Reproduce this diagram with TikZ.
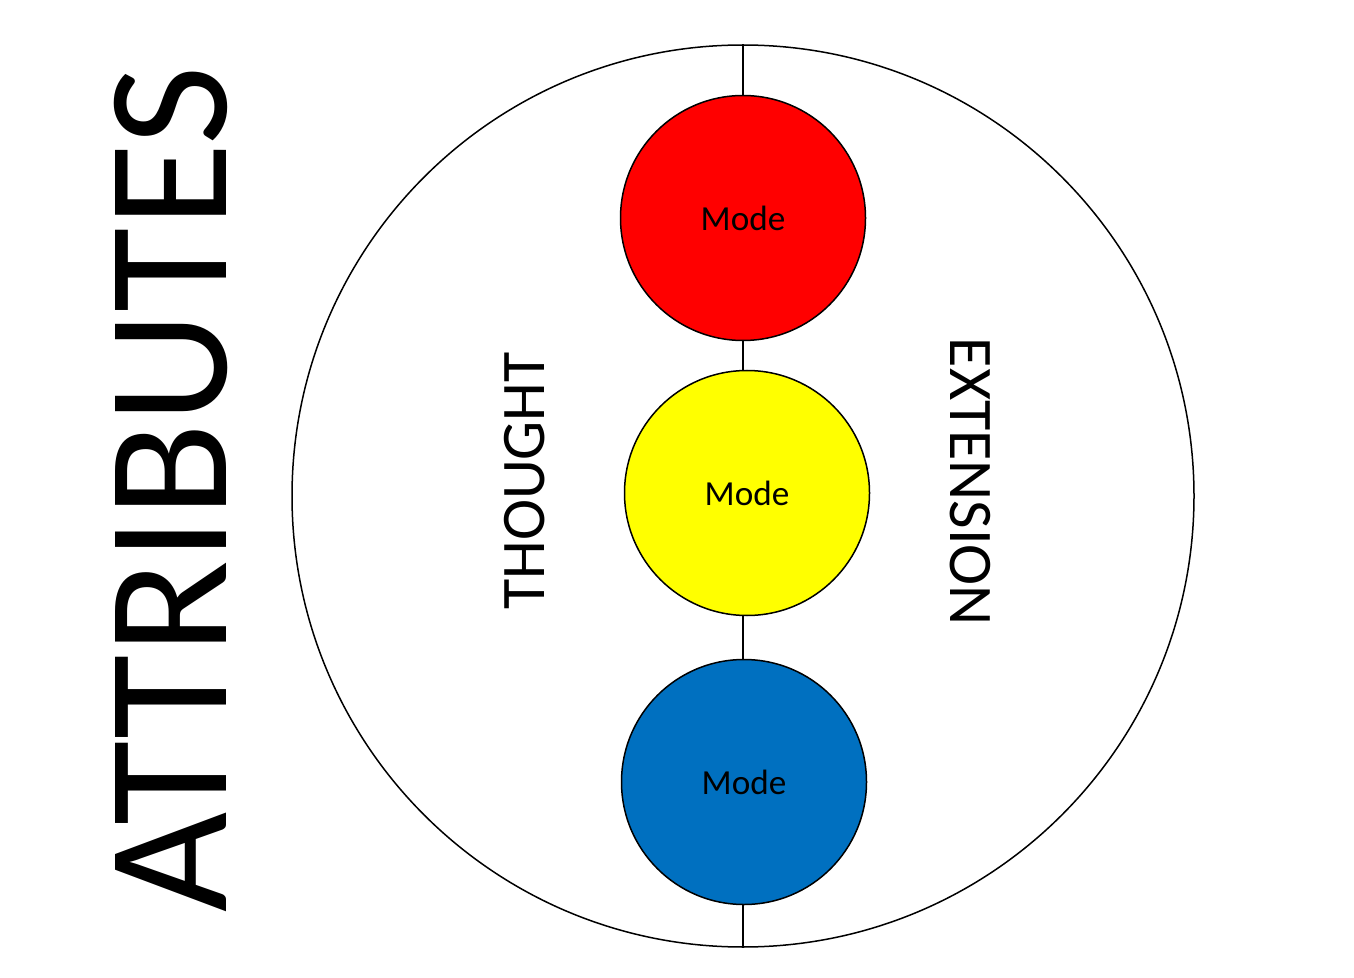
\documentclass[tikz,border=0pt]{standalone}
\usepackage{fontspec}
\setmainfont{Carlito}
\definecolor{modered}{HTML}{FF0000}
\definecolor{modeyellow}{HTML}{FFFF00}
\definecolor{modeblue}{HTML}{0070C0}
\begin{document}
\begin{tikzpicture}[x=0.5pt,y=-0.5pt,
  bigcircle/.style={circle,draw=black,line width=0.75pt,minimum size=451pt,inner sep=0pt},
  modecircle/.style={circle,draw=black,line width=0.75pt,minimum size=122.5pt,inner sep=0pt,font=\fontsize{17.6}{20}\selectfont},
  sidelabel/.style={inner sep=0pt,font=\fontsize{31}{36}\selectfont},
  titlelabel/.style={inner sep=0pt,font=\fontsize{86.5}{96}\selectfont}]
\useasboundingbox (0,0) rectangle (1354,978);
\node[bigcircle] (outer) at (743,496) {};
\draw[line width=1pt] (outer.north) -- (outer.south);
\node[modecircle,fill=modered] (red) at (743,218) {Mode};
\node[modecircle,fill=modeyellow] (yellow) at (747,493) {Mode};
\node[modecircle,fill=modeblue] (blue) at (744,782) {Mode};
\node[sidelabel,rotate=90] (thought) at (525,481) {THOUGHT};
\node[sidelabel,rotate=-90] (extension) at (970,482) {EXTENSION};
\node[titlelabel,rotate=90] (attr) at (171,489) {ATTRIBUTES};
\end{tikzpicture}
\end{document}
